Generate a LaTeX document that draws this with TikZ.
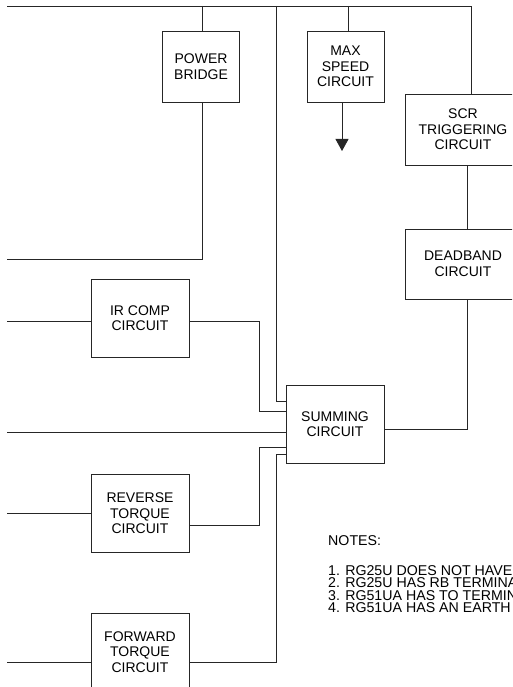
\documentclass[tikz,border=0pt]{standalone}
\usepackage{fontspec}
\setmainfont{Liberation Sans}
\usetikzlibrary{arrows.meta}
\begin{document}
\begin{tikzpicture}[x=1pt,y=-1pt,
  wire/.style={draw=black!85,line width=0.8pt},
  blk/.style={draw=black!85,line width=0.8pt,align=center,inner sep=0pt,
    font=\fontsize{14}{15.5}\selectfont},
  note/.style={anchor=base west,inner sep=0pt,text height=10pt,text depth=0pt,
    font=\fontsize{14.2}{14}\selectfont}]
\useasboundingbox (0,0) rectangle (512,687);
\clip (0,0) rectangle (512,687);
% blocks
\node[blk,minimum width=77pt,minimum height=71pt] (pb) at (201,66.5) {POWER\\BRIDGE};
\node[blk,minimum width=77pt,minimum height=71pt] (ms) at (345.5,66.5) {MAX\\SPEED\\CIRCUIT};
\node[blk,minimum width=116pt,minimum height=71pt] (scr) at (463,129.5) {SCR\\TRIGGERING\\CIRCUIT};
\node[blk,minimum width=116pt,minimum height=70pt] (db) at (463,264) {DEADBAND\\CIRCUIT};
\node[blk,minimum width=98pt,minimum height=78pt] (ir) at (140,318) {IR COMP\\CIRCUIT};
\node[blk,minimum width=98pt,minimum height=78pt] (sum) at (335,424) {SUMMING\\CIRCUIT};
\node[blk,minimum width=98pt,minimum height=78pt] (rev) at (140,513.5) {REVERSE\\TORQUE\\CIRCUIT};
\node[blk,minimum width=98pt,minimum height=78pt] (fwd) at (140,652) {FORWARD\\TORQUE\\CIRCUIT};
% coordinates
\coordinate (tl) at (7,6);
\coordinate (tr) at (471,6);
\coordinate (vpb) at (202,6);
\coordinate (vms) at (348,6);
\coordinate (vlong) at (276,6);
\coordinate (l1) at (7,259);
\coordinate (l2) at (7,321);
\coordinate (l3) at (7,432);
\coordinate (l4) at (7,513);
\coordinate (l5) at (7,662);
\coordinate (j1) at (259,411);
\coordinate (j3) at (259,447);
\coordinate (j4) at (276,454);
\coordinate (j5) at (467,429);
\coordinate (jl) at (276,401);
\coordinate (arr) at (342,151);
% wires
\draw[wire] (tl) -- (tr) -- (tr |- scr.north);
\draw[wire] (vpb) -- (vpb |- pb.north);
\draw[wire] (vms) -- (vms |- ms.north);
\draw[wire] (vlong) -- (jl) -- (jl -| sum.west);
\draw[wire] (vpb |- pb.south) |- (l1);
\draw[wire] (l2) -- (l2 -| ir.west);
\draw[wire] (l2 -| ir.east) -| (j1) -- (j1 -| sum.west);
\draw[wire] (l3) -- (l3 -| sum.west);
\draw[wire] (l4) -- (l4 -| rev.west);
\draw[wire] ([yshift=-11.5pt]rev.east) -| (j3) -- (j3 -| sum.west);
\draw[wire] (l5) -- (l5 -| fwd.west);
\draw[wire] (l5 -| fwd.east) -| (j4) -- (j4 -| sum.west);
\draw[wire] (j5 -| sum.east) -- (j5) -- (j5 |- db.south);
\draw[wire] (j5 |- scr.south) -- (j5 |- db.north);
\draw[wire,-{Triangle[width=13pt,length=12pt]}] (arr |- ms.south) -- (arr);
% notes
\node[note] (n0) at (328,545) {NOTES:};
\node[note] (n1) at (328,575) {1. RG25U DOES NOT HAVE};
\node[note] (n2) at (328,587.5) {2. RG25U HAS RB TERMINA};
\node[note] (n3) at (328,600) {3. RG51UA HAS TO TERMIN};
\node[note] (n4) at (328,612) {4. RG51UA HAS AN EARTH};
\end{tikzpicture}
\end{document}
